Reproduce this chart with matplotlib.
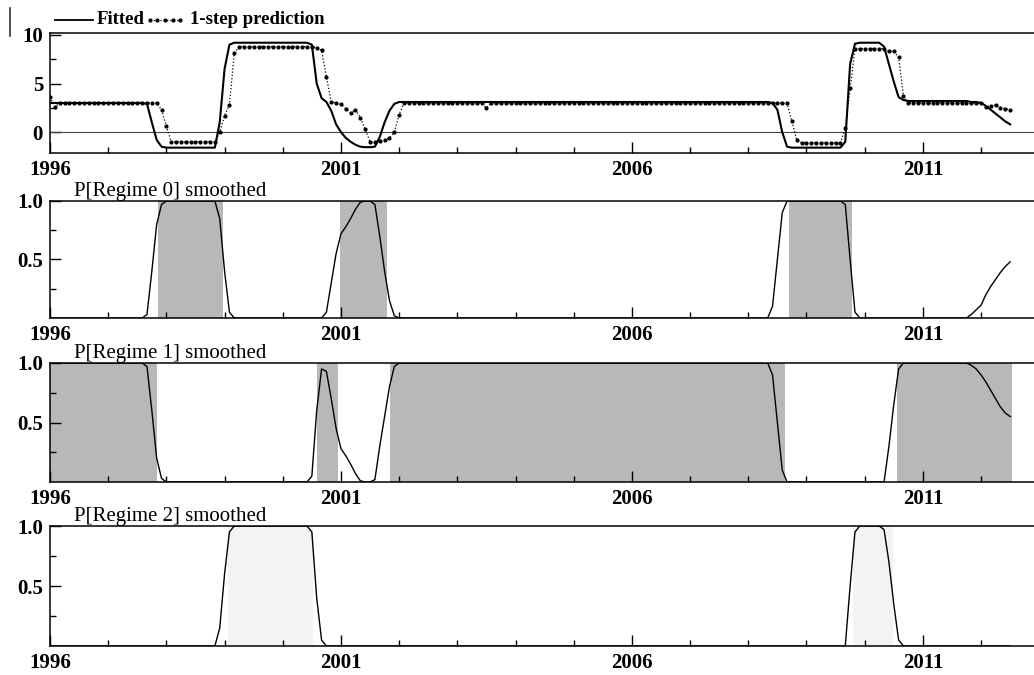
import numpy as np
import matplotlib.pyplot as plt
from matplotlib.lines import Line2D

plt.rcParams['font.family'] = ['Liberation Serif', 'DejaVu Serif']

# monthly sample 1996:01 - 2012:07
start_year = 1996
n_obs = 199

fitted = ([3.0] * 20 + [2.9, 1.0, -0.8, -1.5] + [-1.6] * 11 + [1.0, 6.5, 9.0]
          + [9.2] * 16
          + [9.0, 5.0, 3.5, 3.1, 2.2, 0.8, 0.0, -0.6, -1.0, -1.3, -1.5, -1.55,
             -1.55, -1.5, -0.5, 1.0, 2.2, 2.9]
          + [3.1] * 77 + [3.0, 2.3, 0.0, -1.5] + [-1.6] * 11 + [-1.0, 7.0, 9.1]
          + [9.2] * 5 + [8.8, 7.0, 5.2, 3.6, 3.3] + [3.2] * 13
          + [3.1, 3.1, 3.0, 2.7, 2.3, 1.9, 1.5, 1.1, 0.8])

prediction = ([3.6, 2.6] + [3.0] * 21 + [2.3, 0.6] + [-1.0] * 10
              + [0.0, 1.7, 2.8, 8.1] + [8.8] * 16
              + [8.7, 8.4, 5.7, 3.1, 3.0, 2.9, 2.4, 2.0, 2.3, 1.5, 0.3, -1.0,
                 -1.0, -0.9, -0.8, -0.6, 0.0, 1.8]
              + [3.0] * 17 + [2.5] + [3.0] * 61 + [3.0, 1.1, -0.8] + [-1.1] * 9
              + [0.4, 4.5] + [8.6] * 7 + [8.3, 8.3, 7.7, 3.7] + [3.0] * 16
              + [2.6, 2.7, 2.8, 2.5, 2.4, 2.3])

p_regime0 = ([0.0] * 20 + [0.03, 0.4, 0.8, 0.97] + [1.0] * 11 + [0.85, 0.4, 0.05]
             + [0.0] * 19
             + [0.05, 0.3, 0.55, 0.72, 0.78, 0.85, 0.93, 0.99, 1.0, 1.0, 0.97,
                0.7, 0.4, 0.15, 0.02]
             + [0.0] * 77 + [0.1, 0.5, 0.9] + [1.0] * 12 + [0.97, 0.5, 0.05]
             + [0.0] * 23 + [0.03, 0.07, 0.11, 0.2, 0.27, 0.33, 0.39, 0.44, 0.48])

p_regime1 = ([1.0] * 20 + [0.97, 0.6, 0.2, 0.03] + [0.0] * 30
             + [0.05, 0.6, 0.95, 0.93, 0.7, 0.45, 0.28, 0.22, 0.15, 0.07, 0.01,
                0.0, 0.0, 0.02, 0.3, 0.55, 0.8, 0.97]
             + [1.0] * 77 + [0.9, 0.5, 0.1] + [0.0] * 21 + [0.3, 0.65, 0.95]
             + [1.0] * 14 + [0.98, 0.95, 0.9, 0.84, 0.77, 0.7, 0.63, 0.58, 0.55])

p_regime2 = ([0.0] * 35 + [0.15, 0.6, 0.95] + [1.0] * 16 + [0.95, 0.4, 0.05]
             + [0.0] * 108 + [0.5, 0.95] + [1.0] * 5 + [0.97, 0.7, 0.35, 0.05]
             + [0.0] * 23)

# periods classified to each regime (shaded)
spans_regime0 = [(1997.86, 1998.97), (2000.98, 2001.79), (2008.70, 2009.78)]
spans_regime1 = [(1996.0, 1997.84), (2000.59, 2000.95), (2001.84, 2008.63),
                 (2010.55, 2012.53)]
spans_regime2 = [(1999.06, 2000.52), (2009.80, 2010.48)]

year_ticks = [1996, 2001, 2006, 2011]
year_labels = ['1996', '2001', '2006', '2011']

W, H = 1034, 675


def px_axes(fig, top, bottom, left=50, right=1034):
    return fig.add_axes([left / W, 1 - bottom / H, (right - left) / W, (bottom - top) / H])


def style_axis(ax, yticks, ylabels, yminor):
    ax.set_xlim(1996, 2012.91)
    ax.set_xticks(year_ticks)
    ax.set_xticks(list(range(1997, 2013)), minor=True)
    ax.set_xticklabels(year_labels, fontsize=15, fontweight='bold')
    ax.set_yticks(yticks)
    ax.set_yticks(yminor, minor=True)
    ax.set_yticklabels(ylabels, fontsize=15, fontweight='bold')
    ax.tick_params(which='major', direction='in', length=8, width=1.0, pad=5)
    ax.tick_params(which='minor', direction='in', length=4, width=1.0)
    ax.spines['right'].set_visible(False)
    for s in ['top', 'bottom', 'left']:
        ax.spines[s].set_linewidth(1.1)


fig = plt.figure(figsize=(W / 100, H / 100), dpi=100)
t = start_year + np.arange(n_obs) / 12

# top panel: fitted vs 1-step prediction
ax = px_axes(fig, 33, 153)
ax.axhline(0, color='#444444', lw=0.8)
ax.plot(t, fitted, color='black', lw=1.5)
ax.plot(t, prediction, color='black', lw=0.9, ls=':', marker='o', ms=2.0)
ax.set_ylim(-2.15, 10.2)
style_axis(ax, [0, 5, 10], ['0', '5', '10'], [2.5, 7.5])

# legend
fig.add_artist(Line2D([55 / W, 93 / W], [1 - 20 / H, 1 - 20 / H], color='black', lw=1.3))
fig.text(97 / W, 1 - 20 / H, 'Fitted', fontsize=13.5, fontweight='bold', va='center')
fig.add_artist(Line2D([150 / W, 157 / W, 165 / W, 173 / W, 180 / W], [1 - 20 / H] * 5,
                      color='black', lw=0.9, ls=':', marker='o', ms=2.0))
fig.text(190 / W, 1 - 20 / H, '1-step prediction', fontsize=13.5, fontweight='bold', va='center')
# scan mark at the far left
fig.add_artist(Line2D([10 / W, 10 / W], [1 - 8 / H, 1 - 36 / H], color='#333333', lw=1.2))

panels = [
    (201, 318, p_regime0, spans_regime0, '#b8b8b8', 'P[Regime 0] smoothed'),
    (363, 482, p_regime1, spans_regime1, '#b8b8b8', 'P[Regime 1] smoothed'),
    (526, 646, p_regime2, spans_regime2, '#f3f3f3', 'P[Regime 2] smoothed'),
]
for top, bottom, probs, spans, shade, title in panels:
    ax = px_axes(fig, top, bottom)
    for a, b in spans:
        ax.axvspan(a, b, facecolor=shade, edgecolor='none', lw=0)
    ax.plot(t, probs, color='black', lw=1.0)
    ax.set_ylim(0, 1.0)
    style_axis(ax, [0.5, 1.0], ['0.5', '1.0'], [0.25, 0.75])
    ax.text(0.024, 1.0, title, transform=ax.transAxes, fontsize=15, va='bottom')

fig.savefig('out.png', dpi=100)
